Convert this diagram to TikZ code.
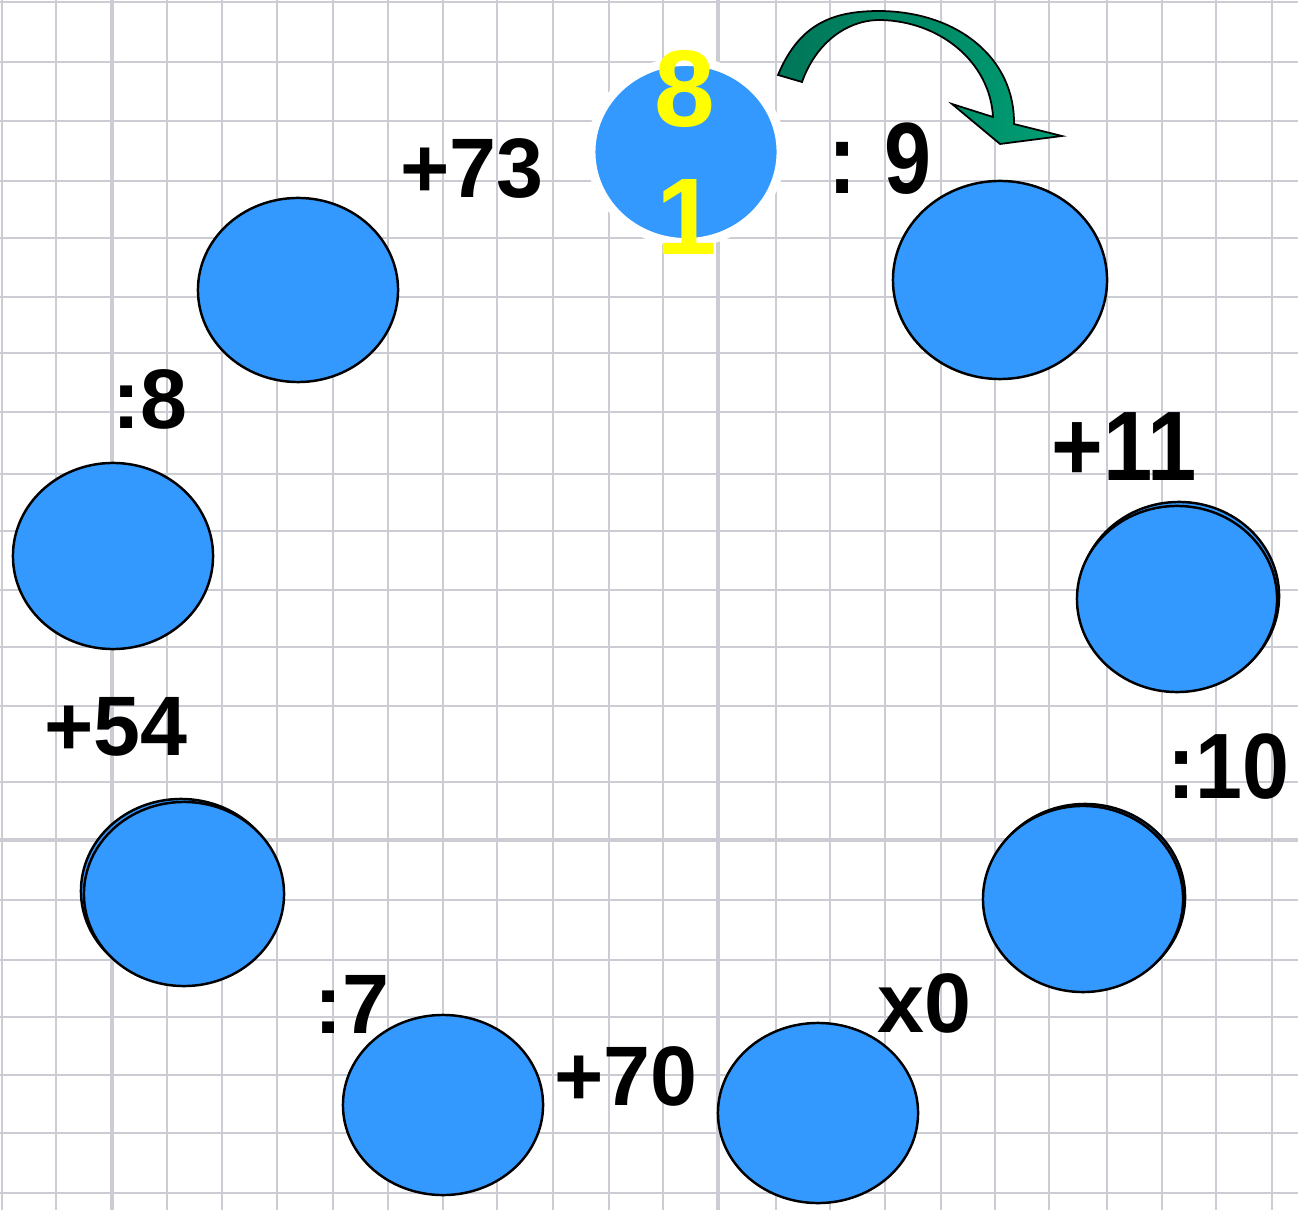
\documentclass[tikz,border=0pt]{standalone}
\usepackage{fontspec}
\setmainfont{Liberation Sans}
\usepackage{xcolor}
\usepackage{tikz}
\usetikzlibrary{shapes.geometric}
\definecolor{ballblue}{RGB}{51, 153, 255}
\definecolor{gridgray}{RGB}{204, 204, 212}
\definecolor{arrowdark}{RGB}{0, 118, 88}
\definecolor{arrowgreen}{RGB}{0, 158, 116}
\definecolor{digityellow}{RGB}{255, 255, 0}

\tikzset{
    ball/.style={ellipse, draw=black, fill=ballblue, line width=0.7pt, inner sep=0pt},
    ghost/.style={ellipse, draw=black, fill=ballblue, line width=0.7pt, inner sep=0pt},
    oplabel/.style={font=\fontsize{24}{24}\selectfont\bfseries, inner sep=0pt},
    digit/.style={font=\fontsize{31}{31}\selectfont\bfseries, text=digityellow, inner sep=0pt}
}

\begin{document}
\begin{tikzpicture}[x=0.01cm, y=-0.01cm]
    % Page background
    \fill[white] (0,0) rectangle (1298,1210);
    \useasboundingbox (0,0) rectangle (1298,1210);

    % Squared paper
    \foreach \gx in {2,56,112,167,222,277,333,388,443,497,553,609,663,718,776,830,885,941,995,1049,1107,1162,1216,1272}
        \draw[gridgray, line width=0.6pt] (\gx,0) -- (\gx,1210);
    \foreach \gy in {2,62,121,181,238,297,353,412,474,531,590,647,706,782,840,900,960,1017,1075,1133,1193}
        \draw[gridgray, line width=0.6pt] (0,\gy) -- (1298,\gy);
    \draw[gridgray, line width=1.1pt] (112,0) -- (112,1210);
    \draw[gridgray, line width=1.1pt] (718,0) -- (718,1210);
    \draw[gridgray, line width=1.1pt] (0,840) -- (1298,840);

    % Start circle with the two yellow digits
    \node[ellipse, fill=ballblue, draw=white, line width=0.9mm, inner sep=0pt,
          minimum width=1.90cm, minimum height=1.81cm] (start) at (686,152) {};
    \node[digit] (eight) at (685,89) {8};
    \node[digit] (one) at (687,217) {1};

    % Chain of empty circles (clockwise)
    \node[ball, minimum width=2.14cm, minimum height=1.98cm] (c1) at (1000,280) {};
    \node[ghost, minimum width=2.00cm, minimum height=1.88cm] at (1179,596) {};
    \node[ball, minimum width=2.00cm, minimum height=1.86cm] (c2) at (1177,599) {};
    \node[ghost, minimum width=2.00cm, minimum height=1.86cm] at (1085,897) {};
    \node[ball, minimum width=2.00cm, minimum height=1.86cm] (c3) at (1083,899) {};
    \node[ball, minimum width=2.00cm, minimum height=1.80cm] (c4) at (818,1113) {};
    \node[ball, minimum width=2.00cm, minimum height=1.80cm] (c5) at (443,1105) {};
    \node[ghost, minimum width=2.00cm, minimum height=1.84cm] at (181,891) {};
    \node[ball, minimum width=2.00cm, minimum height=1.84cm] (c6) at (184,894) {};
    \node[ball, minimum width=2.00cm, minimum height=1.86cm] (c7) at (113,556) {};
    \node[ball, minimum width=2.00cm, minimum height=1.84cm] (c8) at (298,290) {};

    % Operations between the circles
    \node[oplabel] (op1) at (880,159) {\scalebox{1}[1.2]{:\,\,9}};
    \node[oplabel] (op2) at (1124,447) {\scalebox{1.05}[1.17]{+11}};
    \node[oplabel] (op3) at (1228,767) {\scalebox{1}[1.1]{:10}};
    \node[oplabel] (op4) at (924,1003) {x0};
    \node[oplabel] (op5) at (626,1076) {+70};
    \node[oplabel] (op6) at (352,1004) {:7};
    \node[oplabel] (op7) at (116,727) {+54};
    \node[oplabel] (op8) at (150,399) {:8};
    \node[oplabel] (op9) at (472,169) {+73};

    % Curved direction arrow
    \shadedraw[left color=arrowdark, right color=arrowgreen, draw=black, line width=0.5pt]
        (778,75) .. controls (800,22) and (835,11) .. (880,11)
        .. controls (960,12) and (1015,60) .. (1014,124)
        -- (1062,136) -- (1000,144) -- (952,104) -- (993,117)
        .. controls (990,62) and (940,21) .. (880,20)
        .. controls (845,20) and (815,45) .. (802,82) -- cycle;
\end{tikzpicture}
\end{document}
